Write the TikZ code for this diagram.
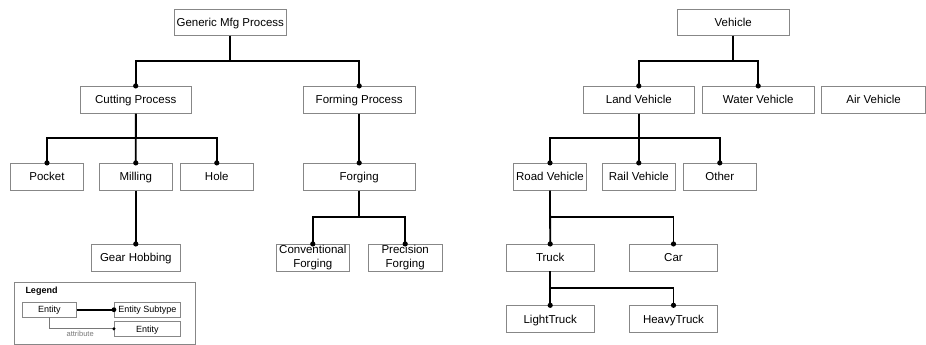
\documentclass[tikz,border=0pt]{standalone}
\usepackage{fontspec}
\setmainfont{Liberation Sans}
\definecolor{bordergray}{RGB}{135,135,135}
\definecolor{attrgray}{RGB}{120,120,120}
\begin{document}
\begin{tikzpicture}[x=1pt,y=-1pt,
  box/.style={draw=bordergray, line width=0.8pt, inner sep=0pt, align=center,
    font=\fontsize{11.5}{13.6}\selectfont, minimum height=27pt},
  one/.style={text height=8.3pt, text depth=0pt},
  wbig/.style={box, one, minimum width=111.5pt},
  wsmall/.style={box, one, minimum width=73.2pt},
  wmid/.style={box, one, minimum width=88.4pt},
  wtwo/.style={box, minimum width=73.2pt, minimum height=26.7pt},
  link/.style={line width=1.8pt, black},
  legbox/.style={draw=bordergray, line width=0.7pt, inner sep=0pt, align=center,
    font=\fontsize{9}{10}\selectfont, minimum height=14.8pt, text height=6.5pt, text depth=0pt},
  attrline/.style={line width=0.7pt, attrgray}
]
\useasboundingbox (0,0) rectangle (926,345);

% bar levels
\coordinate (b1) at (0,60.7);
\coordinate (b2) at (0,137.7);
\coordinate (b3) at (0,216.7);
\coordinate (b4) at (0,287.7);

% left tree
\node[wbig, minimum width=112pt, minimum height=26.3pt] (gen) at (230.3,22.2) {Generic Mfg Process};
\node[wbig] (cut) at (135.7,99.8) {Cutting Process};
\node[wbig] (form) at (359.2,99.8) {Forming Process};
\node[wsmall] (pock) at (47,176.8) {Pocket};
\node[wsmall] (mill) at (135.8,176.8) {Milling};
\node[wsmall] (hole) at (216.8,176.8) {Hole};
\node[wbig] (forg) at (359.2,176.8) {Forging};
\node[box, one, minimum width=89pt, minimum height=26.7pt] (gear) at (135.8,257.7) {Gear Hobbing};
\node[wtwo] (conv) at (312.8,257.7) {Conventional\\Forging};
\node[wtwo, minimum width=73.7pt] (prec) at (405.2,257.7) {Precision\\Forging};

% right tree
\node[wbig, minimum height=26.3pt] (veh) at (733.2,22.2) {Vehicle};
\node[wbig] (land) at (638.8,99.8) {Land Vehicle};
\node[wbig] (water) at (758.2,99.8) {Water Vehicle};
\node[box, one, minimum width=104.2pt] (air) at (873.6,99.8) {Air Vehicle};
\node[wsmall] (road) at (550,176.8) {Road Vehicle};
\node[wsmall] (rail) at (638.8,176.8) {Rail Vehicle};
\node[wsmall] (other) at (719.8,176.8) {Other};
\node[wmid, minimum height=26.7pt] (truck) at (550.2,257.7) {Truck};
\node[wmid, minimum height=26.7pt] (car) at (673.5,257.7) {Car};
\node[wmid] (light) at (550.2,319.2) {LightTruck};
\node[wmid] (heavy) at (673.5,319.2) {HeavyTruck};

% left connectors
\draw[link] (gen.south) -- (gen.south |- b1) -| (cut.north);
\draw[link] (gen.south) -- (gen.south |- b1) -| (form.north);
\draw[link] (cut.south) -- (cut.south |- b2) -| (pock.north);
\draw[link] (cut.south) -- (mill.north);
\draw[link] (cut.south) -- (cut.south |- b2) -| (hole.north);
\draw[link] (form.south) -- (forg.north);
\draw[link] (mill.south) -- (gear.north);
\draw[link] (forg.south) -- (forg.south |- b3) -| (conv.north);
\draw[link] (forg.south) -- (forg.south |- b3) -| (prec.north);

% right connectors
\draw[link] (veh.south) -- (veh.south |- b1) -| (land.north);
\draw[link] (veh.south) -- (veh.south |- b1) -| (water.north);
\draw[link] (land.south) -- (land.south |- b2) -| (road.north);
\draw[link] (land.south) -- (rail.north);
\draw[link] (land.south) -- (land.south |- b2) -| (other.north);
\draw[link] (road.south) -- (truck.north);
\draw[link] (road.south) -- (road.south |- b3) -| (car.north);
\draw[link] (truck.south) -- (light.north);
\draw[link] (truck.south) -- (truck.south |- b4) -| (heavy.north);

% subtype dots
\foreach \n in {cut,form,pock,mill,hole,forg,gear,conv,prec,
                land,water,road,rail,other,truck,car,light,heavy}
  \fill (\n.north) circle (2.6pt);

% legend
\node[draw=bordergray, line width=0.8pt, minimum width=181pt, minimum height=62pt, inner sep=0pt] (legend) at (104.8,313.3) {};
\node[anchor=west, inner sep=0pt, font=\fontsize{9}{10}\selectfont\bfseries, text height=6.5pt, text depth=0pt] (legtitle) at (25.3,290.3) {Legend};
\node[legbox, minimum width=54pt] (lent) at (49.3,309.7) {Entity};
\node[legbox, minimum width=66pt] (lsub) at (147.3,309.7) {Entity Subtype};
\node[legbox, minimum width=66pt, minimum height=15pt] (lent2) at (147.3,328.8) {Entity};
\draw[link, line width=1.6pt] (lent.east) -- (lsub.west);
\fill (lsub.west) circle (2.4pt);
\draw[attrline] (lent.south) |- (lent2.west);
\fill (lent2.west) circle (1.7pt);
\node[inner sep=0pt, text=attrgray, font=\fontsize{7.5}{8}\selectfont] (attr) at (80.2,333.6) {attribute};
\end{tikzpicture}
\end{document}
